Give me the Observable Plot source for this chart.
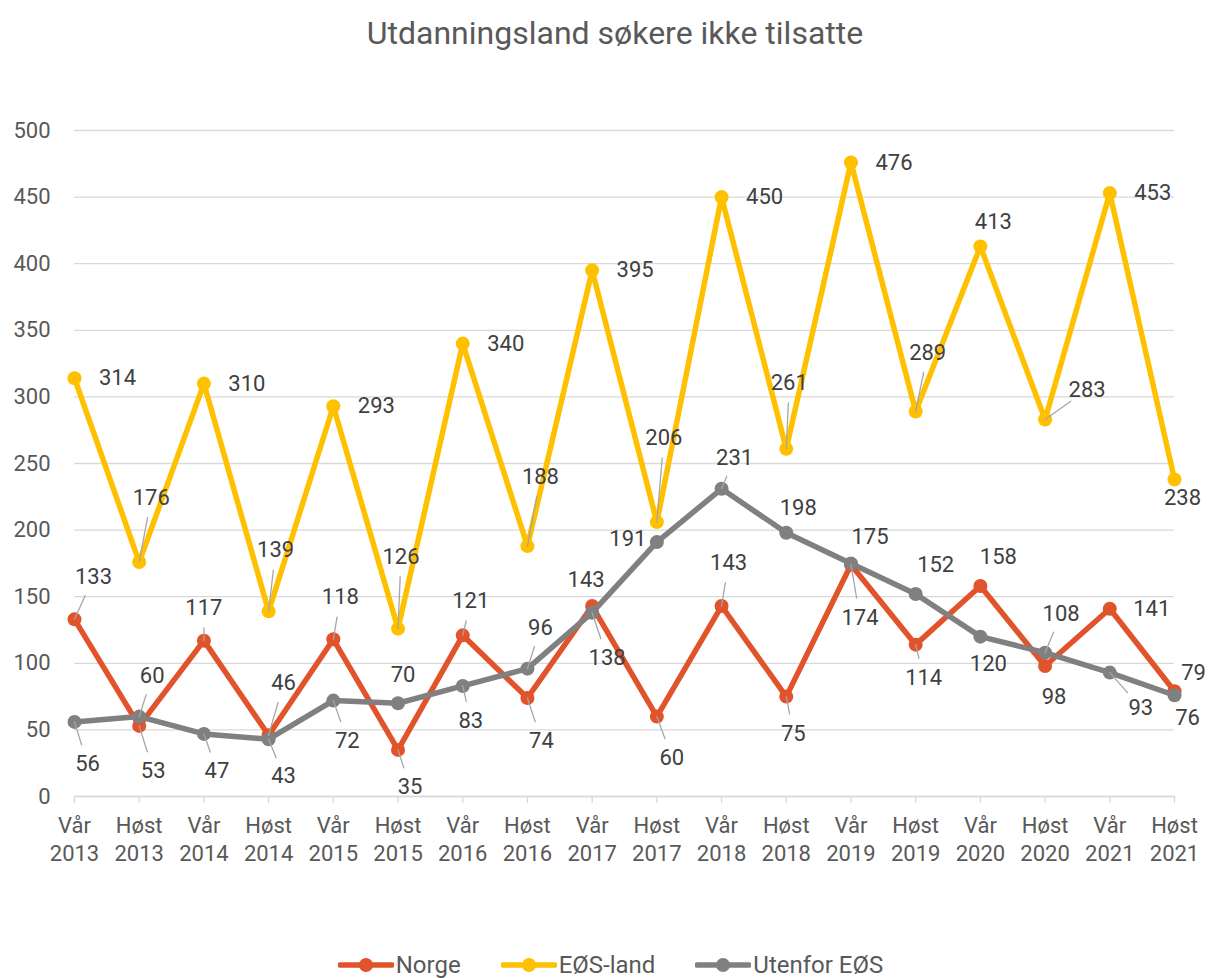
<!DOCTYPE html>
<html>
<head>
<meta charset="utf-8">
<script src="https://cdn.jsdelivr.net/npm/d3@7"></script>
<script src="https://cdn.jsdelivr.net/npm/@observablehq/plot@0.6"></script>
<style>
  body { margin: 0; background: #fff; font-family: Roboto, "Noto Sans", sans-serif; }
  #title { box-sizing: border-box; width: 1209px; height: 64px; line-height: 66px; padding-left: 21px;
           text-align: center; font-size: 32px; color: #595959; }
  #chart svg { display: block; }
  #legend { position: absolute; top: 951px; left: 0; width: 1209px; box-sizing: border-box; padding-left: 12px;
            display: flex; justify-content: center; gap: 40px; font-size: 24px; color: #595959; }
  .item { display: flex; align-items: center; height: 28px; }
  .item svg { margin-right: 2px; }
</style>
</head>
<body>
<div id="title">Utdanningsland søkere ikke tilsatte</div>
<div id="chart"></div>
<div id="legend"></div>
<script>
// ---- data ----
const periods = ["Vår 2013","Høst 2013","Vår 2014","Høst 2014","Vår 2015","Høst 2015","Vår 2016","Høst 2016","Vår 2017",
                 "Høst 2017","Vår 2018","Høst 2018","Vår 2019","Høst 2019","Vår 2020","Høst 2020","Vår 2021","Høst 2021"];
const seriesNames = ["Norge", "EØS-land", "Utenfor EØS"];
const norge   = [133, 53, 117, 46, 118, 35, 121, 74, 143, 60, 143, 75, 174, 114, 158, 98, 141, 79];
const eosLand = [314, 176, 310, 139, 293, 126, 340, 188, 395, 206, 450, 261, 476, 289, 413, 283, 453, 238];
const utenfor = [56, 60, 47, 43, 72, 70, 83, 96, 138, 191, 231, 198, 175, 152, 120, 108, 93, 76];
const yTicks  = [0, 50, 100, 150, 200, 250, 300, 350, 400, 450, 500];

// label offsets (pixels, label centre relative to point)
const norgeLabelOffset = [[19,-42],[14,45],[0,-33],[15,-52],[7,-42],[12,37],[8,-34],[14,43],[-6,-26],[15,41],
                          [7,-43],[7,37],[9,53],[8,33],[18,-29],[9,31],[42,0],[19,-18]];
const eosLabelOffset   = [[43,0],[12,-64],[43,0],[7,-61],[43,0],[3,-72],[43,0],[13,-69],[43,0],[7,-84],
                          [43,0],[3,-66],[43,0],[12,-59],[13,-24],[42,-30],[43,0],[8,18]];
const utenforLabelOffset = [[13,42],[13,-41],[13,37],[15,37],[14,40],[5,-28],[8,35],[13,-41],[15,45],[-29,-3],
                          [13,-31],[12,-25],[19,-26],[20,-29],[8,27],[16,-39],[31,35],[13,23]];

const colors = ["#E0532B", "#FFC000", "#808080"];

// ---- build ----
const series = [
  {name: seriesNames[0], values: norge,   color: colors[0], offsets: norgeLabelOffset},
  {name: seriesNames[1], values: eosLand, color: colors[1], offsets: eosLabelOffset},
  {name: seriesNames[2], values: utenfor, color: colors[2], offsets: utenforLabelOffset}
];
const rows = series.flatMap(s => s.values.map((v, i) => ({period: periods[i], value: v, series: s.name, color: s.color, off: s.offsets[i]})));

const leaderShape = {draw(context, l) { context.moveTo(0, 0); context.lineTo(0, -l); }};

const marks = [
  Plot.gridY({ticks: yTicks, stroke: "#d9d9d9", strokeOpacity: 1, strokeWidth: 1.3}),
  Plot.axisY({ticks: yTicks, tickSize: 0, tickPadding: 24, fontSize: 22, label: null}),
  Plot.axisX({tickSize: 7, tickPadding: 10, stroke: "#d9d9d9", strokeWidth: 1.3, fontSize: 22, lineHeight: 1.25,
              tickFormat: d => d.replace(" ", "\n"), label: null}),
  Plot.ruleY([0], {stroke: "#d9d9d9", strokeWidth: 1.3})
];
for (const s of series) {
  const data = rows.filter(r => r.series === s.name);
  marks.push(Plot.line(data, {x: "period", y: "value", stroke: s.color, strokeWidth: 5.5, strokeLinejoin: "round"}));
  marks.push(Plot.dot(data, {x: "period", y: "value", fill: s.color, r: 7}));
}
for (const r of rows) {
  const [dx, dy] = r.off;
  const dist = Math.hypot(dx, dy);
  if (Math.abs(dy) >= 30 && dist >= 33) {
    const angle = Math.atan2(dx, -dy) * 180 / Math.PI;
    marks.push(Plot.vector([r], {x: "period", y: "value", length: dist - 20, rotate: angle, anchor: "start",
      shape: leaderShape, stroke: "#a6a6a6", strokeWidth: 1.3}));
  }
}
for (const r of rows) {
  const [dx, dy] = r.off;
  marks.push(Plot.text([r], {x: "period", y: "value", text: d => String(d.value), dx, dy,
    fontSize: 22, fill: "#404040", textAnchor: "middle", lineAnchor: "middle"}));
}

const chart = Plot.plot({
  width: 1209,
  height: 840,
  marginTop: 66,
  marginBottom: 108,
  marginLeft: 74,
  marginRight: 35,
  style: {fontFamily: "Roboto, sans-serif", color: "#595959", background: "#fff", overflow: "visible"},
  x: {type: "point", domain: periods, padding: 0, round: false},
  y: {domain: [0, 500]},
  marks
});
document.getElementById("chart").appendChild(chart);

// legend
const legend = document.getElementById("legend");
series.forEach(s => {
  const item = document.createElement("div");
  item.className = "item";
  item.innerHTML = `<svg width="56" height="20"><line x1="2" x2="54" y1="10" y2="10" stroke="${s.color}" stroke-width="5.5" stroke-linecap="round"/><circle cx="28" cy="10" r="7" fill="${s.color}"/></svg><span>${s.name}</span>`;
  legend.appendChild(item);
});
</script>
</body>
</html>
